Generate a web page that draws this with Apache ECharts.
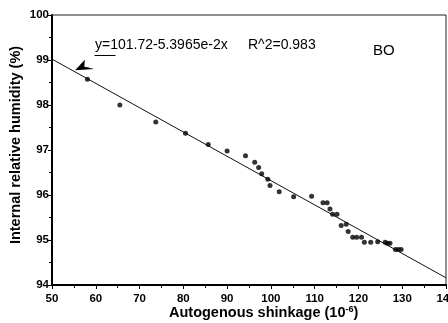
<!DOCTYPE html>
<html>
<head>
<meta charset="utf-8">
<script src="https://cdn.jsdelivr.net/npm/echarts@6/dist/echarts.min.js"></script>
<style>
html,body{margin:0;padding:0;background:#fff;}
#c{width:448px;height:323px;}
</style>
</head>
<body>
<div id="c"></div>
<script>
// Data
var shrinkage = [58.1, 65.5, 73.7, 80.5, 85.7, 90.0, 94.2, 96.3, 97.2, 97.9, 99.3, 99.8, 101.9,
  105.2, 109.3, 111.9, 112.85, 113.5, 114.1, 115.1, 116.05, 117.2, 117.65, 118.7, 119.6, 120.7,
  121.35, 122.8, 124.4, 126.1, 126.6, 127.2, 128.45, 129.1, 129.75];
var humidity = [98.57, 98.0, 97.62, 97.37, 97.12, 96.98, 96.87, 96.73, 96.61, 96.47, 96.35, 96.21, 96.07,
  95.96, 95.97, 95.83, 95.83, 95.69, 95.57, 95.57, 95.32, 95.35, 95.19, 95.06, 95.06, 95.06,
  94.95, 94.95, 94.96, 94.95, 94.93, 94.93, 94.79, 94.79, 94.79];
var trendX = [50, 140];
var trendY = [99.02, 94.16];
var xTicks = [50, 60, 70, 80, 90, 100, 110, 120, 130, 140];
var yTicks = [94, 95, 96, 97, 98, 99, 100];
var equationText = 'y=101.72-5.3965e-2x';
var r2Text = 'R^2=0.983';
var seriesLabel = 'BO';
var xTitle = 'Autogenous shinkage (10';
var xTitleSup = '-6';
var yTitle = 'Internal relative humidity (%)';

var points = shrinkage.map(function (x, i) { return [x, humidity[i]]; });
var trend = trendX.map(function (x, i) { return [x, trendY[i]]; });

var FONT = '"Liberation Sans", Arial, sans-serif';
var chart = echarts.init(document.getElementById('c'));
chart.setOption({
  animation: false,
  backgroundColor: '#fff',
  grid: { left: 52, right: 2, top: 15, bottom: 38, show: true, borderColor: '#222', borderWidth: 1,
    backgroundColor: 'transparent', containLabel: false, outerBoundsMode: 'none' },
  xAxis: {
    type: 'value', min: xTicks[0], max: xTicks[xTicks.length - 1], interval: 10,
    axisLine: { show: true, onZero: false, lineStyle: { color: '#000', width: 2 } },
    axisTick: { show: true, length: 4, lineStyle: { color: '#000', width: 1 } },
    minorTick: { show: true, splitNumber: 2, length: 3, lineStyle: { color: '#000' } },
    splitLine: { show: false },
    axisLabel: { color: '#000', fontFamily: FONT, fontSize: 11.5, fontWeight: 'bold', margin: 8, showMaxLabel: true, hideOverlap: false }
  },
  yAxis: {
    type: 'value', min: yTicks[0], max: yTicks[yTicks.length - 1], interval: 1,
    axisLine: { show: true, onZero: false, lineStyle: { color: '#000', width: 2 } },
    axisTick: { show: true, length: 4, lineStyle: { color: '#000', width: 1 } },
    minorTick: { show: true, splitNumber: 2, length: 3, lineStyle: { color: '#000' } },
    splitLine: { show: false },
    axisLabel: { color: '#000', fontFamily: FONT, fontSize: 11.5, fontWeight: 'bold', margin: 3 }
  },
  series: [
    { type: 'line', data: trend, symbol: 'none', lineStyle: { color: '#111', width: 1 }, z: 2 },
    { type: 'scatter', data: points, symbol: 'circle', symbolSize: 5, itemStyle: { color: '#000' }, z: 3 }
  ]
});

function px(x, y) { return chart.convertToPixel({ gridIndex: 0 }, [x, y]); }
var tip = px(55.7, 98.79), armA = px(57.3, 98.96), notch = px(57.2, 98.84), armB = px(58.5, 98.81);
var ulA = px(59.7, 99.1), ulB = px(64.5, 99.1);

chart.setOption({
  graphic: [
    { type: 'polygon', shape: { points: [armA, tip, armB, notch] }, style: { stroke: '#000', lineWidth: 1.5, fill: '#000' } },
    { type: 'line', shape: { x1: ulA[0], y1: ulA[1], x2: ulB[0], y2: ulB[1] }, style: { stroke: '#000', lineWidth: 1 } },
    { type: 'text', x: 95, y: 45, style: { text: equationText, font: '14px ' + FONT, fill: '#000', textAlign: 'left', textVerticalAlign: 'middle' } },
    { type: 'text', x: 248, y: 45, style: { text: r2Text, font: '14px ' + FONT, fill: '#000', textAlign: 'left', textVerticalAlign: 'middle' } },
    { type: 'text', x: 373, y: 51, style: { text: seriesLabel, font: '15px ' + FONT, fill: '#000', textAlign: 'left', textVerticalAlign: 'middle' } },
    { type: 'text', x: 16, y: 145, rotation: Math.PI / 2,
      style: { text: yTitle, font: 'bold 14.5px ' + FONT, fill: '#000', textAlign: 'center', textVerticalAlign: 'middle' } },
    { type: 'text', x: 169, y: 313,
      style: { text: '{a|' + xTitle + '}{s|' + xTitleSup + '}{a|)}', textAlign: 'left', textVerticalAlign: 'middle',
        rich: { a: { fontFamily: FONT, fontSize: 14.5, fontWeight: 'bold', color: '#000' },
                s: { fontFamily: FONT, fontSize: 9, fontWeight: 'bold', color: '#000', verticalAlign: 'top', padding: [0, 0, 6, 0] } } } }
  ]
});
</script>
</body>
</html>
